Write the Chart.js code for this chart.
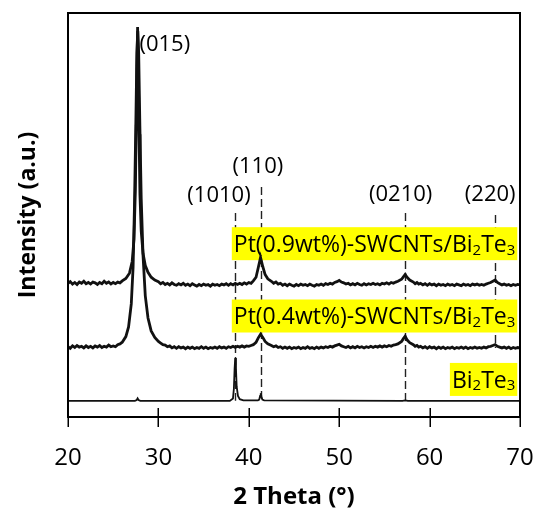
<!DOCTYPE html>
<html><head><meta charset="utf-8">
<script src="https://cdn.jsdelivr.net/npm/chart.js@4.4.1/dist/chart.umd.min.js"></script>
<style>html,body{margin:0;padding:0;background:#fff}</style>
</head><body>
<canvas id="c" width="537" height="511"></canvas>
<script>
// ---------- DATA ----------
const xTicks = [20, 30, 40, 50, 60, 70];

// Pt(0.9wt%)-SWCNTs/Bi2Te3
const x09 = [
 20,20.25,20.5,20.75,21,21.25,21.5,21.75,22,22.25,22.5,22.75,23,23.25,23.5,23.75,24,24.25,24.5,24.75,25,25.25,25.5,25.75,26,
 26.4,26.8,27.1,27.3,27.45,27.55,27.62,27.7,27.78,27.86,27.96,28.1,28.3,28.55,28.85,29.2,29.6,30,
 30.25,30.5,30.75,31,31.25,31.5,31.75,32,32.25,32.5,32.75,33,33.25,33.5,33.75,34,34.25,34.5,34.75,35,35.25,35.5,35.75,36,36.25,36.5,36.75,37,37.25,37.5,37.75,38,38.25,38.5,38.75,39,39.25,39.5,39.75,40,40.25,40.5,
 40.8,41.05,41.3,41.55,41.8,42.1,42.5,
 42.75,43,43.25,43.5,43.75,44,44.25,44.5,44.75,45,45.25,45.5,45.75,46,46.25,46.5,46.75,47,47.25,47.5,47.75,48,48.25,48.5,48.75,49,49.25,49.5,49.75,50,50.25,50.5,50.75,51,51.25,51.5,51.75,52,52.25,52.5,52.75,53,53.25,53.5,53.75,54,54.25,54.5,54.75,55,55.25,55.5,55.75,56,56.25,56.5,
 56.9,57.1,57.3,57.5,57.8,58.2,
 58.4,58.6,58.8,59,59.25,59.5,59.75,60,60.25,60.5,60.75,61,61.25,61.5,61.75,62,62.25,62.5,62.75,63,63.25,63.5,63.75,64,64.25,64.5,64.75,65,65.25,65.5,65.75,66,66.25,66.5,66.75,67,67.25,67.5,67.75,68,68.25,68.5,68.75,69,69.25,69.5,69.75,70];
const y09 = [
 33.1,33.5,32.9,33.3,32.8,33.4,33.1,33.6,33.0,33.3,32.9,33.4,33.2,32.8,33.3,33.0,33.6,33.1,33.4,32.9,33.3,33.0,33.4,33.2,33.7,
 34.3,35.6,38.5,44,56,72,86,96.5,86,70,55,46,40.5,37.5,35.8,34.6,33.9,33.5,
 33.0,33.3,32.8,33.1,32.7,33.2,32.8,32.6,33.0,32.7,33.1,32.6,32.9,32.5,33.0,32.7,32.4,32.8,32.5,32.9,32.6,32.8,32.4,32.9,32.6,32.8,32.5,32.9,32.7,33.0,32.6,33.0,32.7,33.1,32.8,33.1,32.8,33.2,32.9,33.3,33.1,33.7,
 34.6,37,39.5,37.2,35.3,34.2,33.6,
 33.1,33.4,32.9,33.1,32.6,32.9,32.5,32.9,32.6,32.4,32.8,32.5,32.9,32.6,32.8,32.5,32.9,32.6,32.4,32.8,32.6,32.9,32.6,33.0,32.8,33.1,32.9,33.3,33.5,33.8,33.4,33.2,32.9,33.1,32.7,33.0,32.7,33.1,32.8,32.6,33.0,32.7,33.0,32.8,33.1,32.8,33.0,32.7,33.1,32.9,33.2,32.9,33.3,33.1,33.4,33.6,
 34.1,34.7,35.3,34.6,33.9,33.4,
 33.0,33.3,32.9,33.1,32.7,33.0,32.6,33.0,32.7,32.9,32.5,32.9,32.6,32.8,32.5,32.9,32.6,32.8,32.5,32.9,32.7,32.5,32.9,32.6,32.8,32.5,32.9,32.7,32.9,32.6,32.8,32.6,32.9,33.1,33.3,33.6,33.9,33.3,33.0,32.7,32.9,32.6,32.8,32.5,32.8,32.6,32.8,32.7];

// Pt(0.4wt%)-SWCNTs/Bi2Te3
const x04 = [
 20,20.25,20.5,20.75,21,21.25,21.5,21.75,22,22.25,22.5,22.75,23,23.25,23.5,23.75,24,24.25,24.5,24.75,25,25.25,25.5,25.75,26,
 26.4,26.7,27.0,27.2,27.35,27.5,27.62,27.72,27.82,27.95,28.1,28.3,28.55,28.85,29.2,29.6,30,
 30.25,30.5,30.75,31,31.25,31.5,31.75,32,32.25,32.5,32.75,33,33.25,33.5,33.75,34,34.25,34.5,34.75,35,35.25,35.5,35.75,36,36.25,36.5,36.75,37,37.25,37.5,37.75,38,38.25,38.5,38.75,39,39.25,39.5,39.75,40,40.25,40.5,
 40.8,41.05,41.3,41.55,41.8,42.1,42.5,
 42.75,43,43.25,43.5,43.75,44,44.25,44.5,44.75,45,45.25,45.5,45.75,46,46.25,46.5,46.75,47,47.25,47.5,47.75,48,48.25,48.5,48.75,49,49.25,49.5,49.75,50,50.25,50.5,50.75,51,51.25,51.5,51.75,52,52.25,52.5,52.75,53,53.25,53.5,53.75,54,54.25,54.5,54.75,55,55.25,55.5,55.75,56,56.25,56.5,
 56.9,57.1,57.3,57.5,57.8,58.2,
 58.4,58.6,58.8,59,59.25,59.5,59.75,60,60.25,60.5,60.75,61,61.25,61.5,61.75,62,62.25,62.5,62.75,63,63.25,63.5,63.75,64,64.25,64.5,64.75,65,65.25,65.5,65.75,66,66.25,66.5,66.75,67,67.25,67.5,67.75,68,68.25,68.5,68.75,69,69.25,69.5,69.75,70];
const y04 = [
 17.4,17.0,17.6,17.2,17.7,17.3,17.5,17.1,17.6,17.2,17.5,17.1,17.6,17.3,17.7,17.2,17.5,17.3,17.8,17.4,17.6,17.4,17.9,18.1,18.5,
 19.9,22.3,28,37,52,72,90,95.5,90,72,54,40,30,24.5,21.3,19.7,18.7,
 18.3,17.9,17.8,17.4,17.6,17.1,17.4,17.0,17.4,17.1,17.3,16.9,17.3,17.0,17.3,16.9,17.2,17.0,17.4,17.0,17.3,16.9,17.2,17.0,17.3,17.0,17.4,17.1,17.3,17.0,17.4,17.2,17.5,17.2,17.5,17.3,17.6,17.3,17.6,17.5,17.7,17.9,
 18.5,19.6,20.5,19.7,18.7,18.1,17.7,
 17.4,17.6,17.2,17.4,17.0,17.3,17.0,17.3,16.9,17.2,17.0,17.3,16.9,17.2,17.0,17.4,17.0,17.2,16.9,17.3,17.0,17.3,17.1,17.4,17.2,17.5,17.3,17.6,17.8,18.0,17.6,17.4,17.2,17.5,17.1,17.4,17.1,17.5,17.2,17.4,17.1,17.4,17.2,17.5,17.2,17.5,17.3,17.6,17.3,17.6,17.4,17.7,17.5,17.8,17.9,18.1,
 18.7,19.4,20.0,19.1,18.4,17.9,
 17.5,17.7,17.3,17.5,17.1,17.4,17.0,17.4,17.1,17.3,16.9,17.3,17.0,17.3,16.9,17.2,17.0,17.3,16.9,17.2,17.0,17.3,17.0,17.3,16.9,17.2,17.0,17.3,17.0,17.2,17.0,17.3,17.1,17.4,17.5,17.7,17.9,17.5,17.3,17.1,17.3,17.0,17.3,16.9,17.2,17.0,17.2,17.1];

// Bi2Te3
const xBT = [20,27.4,27.6,27.7,27.8,28.0,37.9,38.25,38.35,38.43,38.5,38.58,38.66,38.8,39.0,39.4,41.0,41.15,41.25,41.32,41.4,41.5,41.7,57.0,57.3,57.6,70];
const yBT = [4.0,4.0,4.2,4.6,4.2,4.0,4.0,4.6,7.0,12.0,14.6,12.0,7.5,5.2,4.4,4.1,4.1,4.3,5.2,5.9,5.0,4.3,4.1,4.0,4.1,4.0,4.0];

// Reflections
const peakNames = ["(015)", "(1010)", "(110)", "(0210)", "(220)"];
const peakAngles = [27.7, 38.5, 41.3, 57.3, 67.2];

// Sample names (segments: [text, isSubscript])
const sampleNames = [
  [["Pt(0.9wt%)-SWCNTs/Bi",0],["2",1],["Te",0],["3",1]],
  [["Pt(0.4wt%)-SWCNTs/Bi",0],["2",1],["Te",0],["3",1]],
  [["Bi",0],["2",1],["Te",0],["3",1]]
];
const xTitle = "2 Theta (°)";
const yTitle = "Intensity (a.u.)";

// ---------- LAYOUT (positions in data units) ----------
const peakLabelPos = [ {x:27.9, y:92.1, align:'left'}, {x:36.7,y:54.7,align:'center'}, {x:41.0,y:61.9,align:'center'}, {x:56.8,y:55.0,align:'center'}, {x:66.7,y:55.0,align:'center'} ];
const dashRange = [null, [50.5,4.0], [56.9,4.0], [50.5,4.0], [50.0,17.1]];
const sampleLabelPos = [ {xr:69.7, y:42.9}, {xr:69.7, y:25.0}, {xr:69.7, y:9.3} ];

const FONT = '"Open Sans", "DejaVu Sans", sans-serif';

function pts(xs, ys){ return xs.map((v,i)=>({x:v, y:ys[i]})); }

function segWidth(ctx, segs, size){
  let w=0;
  segs.forEach(([t,s])=>{ ctx.font = (s? Math.round(size*0.65): size)+'px '+FONT; w+=ctx.measureText(t).width; });
  return w;
}
function drawSegs(ctx, segs, x, yMid, size){
  segs.forEach(([t,s])=>{
    const fs = s? Math.round(size*0.65): size;
    ctx.font = fs+'px '+FONT;
    ctx.textBaseline='alphabetic';
    const base = yMid + size*0.36 + (s? size*0.12:0);
    ctx.fillText(t, x, base);
    x += ctx.measureText(t).width;
  });
}

const deco = {
  id:'deco',
  beforeDatasetsDraw(ch){
    const {ctx, scales:{x,y}} = ch;
    ctx.save();
    ctx.strokeStyle='#222'; ctx.lineWidth=1.4; ctx.setLineDash([8,4]);
    peakAngles.forEach((a,i)=>{
      const r = dashRange[i]; if(!r) return;
      const px = Math.round(x.getPixelForValue(a))+0.5;
      ctx.beginPath(); ctx.moveTo(px, y.getPixelForValue(r[0])); ctx.lineTo(px, y.getPixelForValue(r[1])); ctx.stroke();
    });
    ctx.setLineDash([]);
    const size=23;
    sampleNames.forEach((segs,i)=>{
      const p = sampleLabelPos[i];
      const w = segWidth(ctx, segs, size);
      const xr = x.getPixelForValue(p.xr);
      const yc = y.getPixelForValue(p.y);
      ctx.fillStyle='#FFFF00';
      ctx.fillRect(xr - w - 4, yc - 16.5, w + 4, 33);
      ctx.fillStyle='#000';
      drawSegs(ctx, segs, xr - w - 2, yc, size);
    });
    ctx.restore();
  },
  afterDatasetsDraw(ch){
    const {ctx, chartArea:a, scales:{x,y}} = ch;
    ctx.save();
    ctx.strokeStyle='#000'; ctx.lineWidth=2;
    ctx.strokeRect(a.left, a.top, a.right-a.left, a.bottom-a.top);
    ctx.lineWidth=1.5;
    xTicks.forEach(t=>{
      const px = Math.round(x.getPixelForValue(t))+0.25;
      ctx.beginPath();
      const inner = (t===xTicks[0]||t===xTicks[xTicks.length-1]) ? 0 : 9;
      ctx.moveTo(px, a.bottom - inner); ctx.lineTo(px, a.bottom + 10); ctx.stroke();
    });
    ctx.fillStyle='#000'; ctx.font='24px '+FONT; ctx.textAlign='center'; ctx.textBaseline='middle';
    xTicks.forEach(t=>{ ctx.fillText(String(t), x.getPixelForValue(t), a.bottom + 41); });
    ctx.font='bold 24px '+FONT;
    ctx.fillText(xTitle, (a.left+a.right)/2, a.bottom + 80);
    ctx.save();
    ctx.translate(28, (a.top+a.bottom)/2);
    ctx.rotate(-Math.PI/2);
    ctx.font='bold 23px '+FONT;
    ctx.fillText(yTitle, 0, 0);
    ctx.restore();
    ctx.font='22px '+FONT;
    peakNames.forEach((n,i)=>{
      const p = peakLabelPos[i];
      ctx.textAlign = p.align;
      ctx.fillText(n, x.getPixelForValue(p.x), y.getPixelForValue(p.y));
    });
    ctx.restore();
  }
};

new Chart(document.getElementById('c'), {
  type:'scatter',
  data:{ datasets:[
    {label:'Pt(0.9wt%)-SWCNTs/Bi2Te3', data:pts(x09,y09), showLine:true, borderColor:'#111', borderWidth:2.8, pointRadius:0, tension:0},
    {label:'Pt(0.4wt%)-SWCNTs/Bi2Te3', data:pts(x04,y04), showLine:true, borderColor:'#111', borderWidth:2.8, pointRadius:0, tension:0},
    {label:'Bi2Te3', data:pts(xBT,yBT), showLine:true, borderColor:'#111', borderWidth:1.8, pointRadius:0, tension:0}
  ]},
  options:{
    responsive:false, animation:false, devicePixelRatio:1,
    layout:{padding:{left:68, right:17, top:13, bottom:94}},
    plugins:{legend:{display:false}, tooltip:{enabled:false}},
    scales:{
      x:{type:'linear', min:20, max:70, display:false},
      y:{type:'linear', min:0, max:100, display:false}
    }
  },
  plugins:[deco]
});
</script>
</body></html>
